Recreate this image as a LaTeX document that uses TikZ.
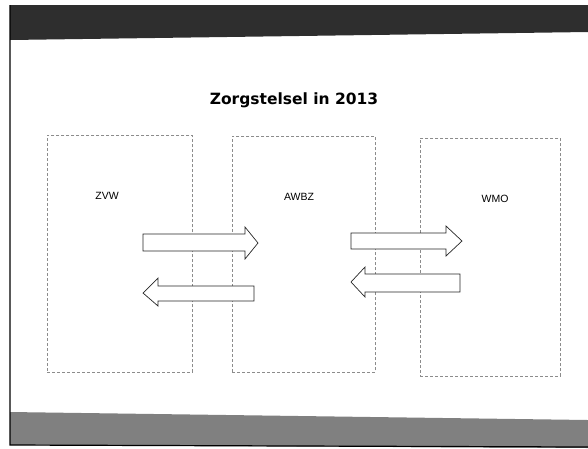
\documentclass[tikz,border=0pt]{standalone}
\usepackage{fontspec}
\setmainfont{Liberation Sans}
\newfontfamily\titlefont{DejaVu Sans}
\begin{document}
\begin{tikzpicture}[x=1pt,y=-1pt,
  colbox/.style={draw=black!45,densely dashed,line width=0.5pt},
  lbl/.style={font=\fontsize{10.5}{12}\selectfont,inner sep=0pt},
  arrowshape/.style={draw=black!85,line width=0.7pt,fill=white,line join=miter}]
\useasboundingbox (0,0) rectangle (588,448);
% slide frame and bands
\fill[black!82] (10,5) -- (588,5) -- (588,32) -- (10,40) -- cycle;
\fill[black!50] (10,412) -- (588,420) -- (588,448) -- (10,445) -- cycle;
\draw[line width=1.2pt] (10,5) -- (10,445) -- (588,447);
% title
\node[font=\titlefont\bfseries\fontsize{15.5}{18}\selectfont] (title) at (294,100) {Zorgstelsel in 2013};
% columns
\node[colbox,minimum width=145,minimum height=237,anchor=north west,inner sep=0pt] (zvw) at (47,135) {};
\node[colbox,minimum width=143,minimum height=236,anchor=north west,inner sep=0pt] (awbz) at (232,136) {};
\node[colbox,minimum width=140,minimum height=238,anchor=north west,inner sep=0pt] (wmo) at (420,138) {};
\node[lbl] (l1) at (107,196) {ZVW};
\node[lbl] (l2) at (299,197) {AWBZ};
\node[lbl] (l3) at (495,199) {WMO};
% block arrows
\draw[arrowshape] (143,234) -- (245,234) -- (245,227) -- (258,243) -- (245,259) -- (245,251) -- (143,251) -- cycle;
\draw[arrowshape] (254,286) -- (158,286) -- (158,278) -- (143,293) -- (158,306) -- (158,301) -- (254,301) -- cycle;
\draw[arrowshape] (351,233) -- (446,233) -- (446,226) -- (462,241) -- (446,256) -- (446,249) -- (351,249) -- cycle;
\draw[arrowshape] (460,274) -- (365,274) -- (365,267) -- (351,282) -- (365,297) -- (365,292) -- (460,292) -- cycle;
\end{tikzpicture}
\end{document}
